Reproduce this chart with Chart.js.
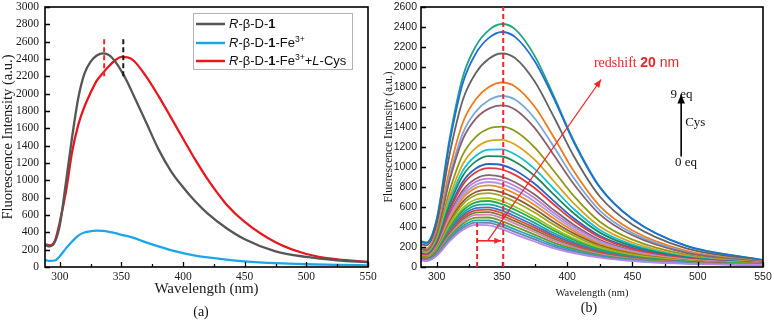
<!DOCTYPE html>
<html>
<head>
<meta charset="utf-8">
<script src="https://cdn.jsdelivr.net/npm/chart.js@4.4.1/dist/chart.umd.min.js"></script>
<style>
  html, body { margin: 0; padding: 0; background: #fff; }
  #wrap { position: relative; width: 774px; height: 320px; overflow: hidden; }
  #chartA { position: absolute; left: 0; top: 0; }
  #chartB { position: absolute; left: 380px; top: 0; }
</style>
</head>
<body>
<div id="wrap">
  <canvas id="chartA" width="385" height="320"></canvas>
  <canvas id="chartB" width="394" height="320"></canvas>
</div>
<script>
// --- values ---

// panel (a): three emission spectra
const wavelengthsA = [288, 292, 296, 300, 305, 310, 315, 320, 325, 330, 335, 340, 345, 350, 355, 360, 370, 380, 390, 400, 410, 420, 435, 450, 475, 500, 525, 550]
const probe = [254, 238, 290, 480, 980, 1500, 1950, 2230, 2370, 2440, 2465, 2445, 2370, 2260, 2130, 1975, 1670, 1360, 1110, 920, 755, 615, 450, 320, 180, 116, 78, 55]
const probeFe = [81, 70, 75, 125, 215, 295, 362, 398, 413, 419, 416, 405, 390, 372, 355, 335, 284, 237, 195, 160, 132, 110, 85, 66, 45, 32, 24, 19]
const probeFeCys = [262, 250, 300, 520, 870, 1330, 1640, 1850, 2010, 2150, 2240, 2320, 2385, 2425, 2420, 2380, 2200, 1975, 1730, 1480, 1235, 1010, 725, 520, 285, 150, 88, 60]

// panel (b): titration with Cys, listed from 9 eq (top) down to 0 eq
const wavelengthsB = [288, 292, 300, 310, 320, 330, 340, 350, 360, 375, 390, 405, 425, 450, 490, 550]
const cysCurves = [
  [260, 245, 481, 1290, 1900, 2209, 2369, 2430, 2379, 2114, 1701, 1264, 802, 481, 219, 70],
  [251, 237, 465, 1248, 1838, 2136, 2291, 2350, 2301, 2060, 1680, 1250, 795, 478, 217, 69],
  [228, 216, 423, 1134, 1670, 1941, 2082, 2135, 2090, 1857, 1495, 1110, 705, 423, 192, 62],
  [197, 186, 365, 980, 1443, 1677, 1799, 1845, 1806, 1605, 1292, 959, 609, 365, 166, 54],
  [183, 173, 339, 908, 1337, 1554, 1667, 1710, 1674, 1488, 1197, 889, 564, 339, 154, 50],
  [178, 167, 327, 869, 1277, 1484, 1584, 1616, 1575, 1392, 1116, 830, 527, 317, 145, 49],
  [158, 149, 290, 765, 1123, 1302, 1385, 1404, 1360, 1197, 957, 711, 453, 273, 126, 44],
  [147, 138, 268, 702, 1028, 1191, 1262, 1272, 1225, 1073, 855, 636, 405, 245, 114, 41],
  [140, 131, 253, 658, 962, 1113, 1174, 1177, 1127, 982, 780, 580, 371, 224, 106, 39],
  [135, 126, 243, 626, 913, 1056, 1109, 1105, 1053, 912, 721, 537, 344, 208, 99, 38],
  [127, 119, 229, 585, 853, 985, 1030, 1020, 967, 832, 656, 488, 313, 191, 92, 36],
  [124, 116, 221, 564, 821, 947, 988, 975, 921, 790, 622, 463, 297, 181, 88, 35],
  [117, 109, 208, 527, 766, 883, 918, 902, 848, 724, 568, 423, 272, 166, 81, 34],
  [113, 106, 202, 509, 740, 852, 884, 865, 810, 690, 539, 402, 259, 158, 78, 33],
  [110, 103, 195, 492, 713, 821, 850, 829, 774, 656, 512, 381, 246, 151, 75, 32],
  [107, 100, 190, 474, 688, 791, 816, 792, 735, 620, 482, 360, 232, 143, 71, 31],
  [103, 96, 181, 451, 653, 750, 772, 747, 691, 581, 450, 336, 217, 134, 67, 30],
  [100, 93, 175, 434, 627, 720, 738, 709, 652, 545, 421, 314, 203, 125, 64, 29],
  [95, 88, 166, 408, 589, 675, 689, 658, 602, 499, 384, 286, 186, 115, 59, 28],
  [92, 85, 160, 392, 565, 647, 660, 628, 572, 472, 362, 270, 176, 109, 56, 27],
  [88, 82, 153, 374, 538, 617, 626, 593, 537, 441, 337, 251, 164, 102, 53, 26],
  [85, 79, 147, 358, 515, 589, 597, 563, 508, 415, 316, 236, 154, 96, 51, 25],
  [82, 76, 142, 344, 495, 566, 573, 538, 483, 394, 298, 223, 146, 91, 48, 25],
  [80, 74, 138, 331, 476, 544, 548, 513, 458, 371, 280, 209, 137, 86, 46, 24],
  [77, 71, 132, 318, 456, 521, 524, 488, 434, 350, 263, 197, 129, 81, 44, 23],
  [74, 68, 127, 302, 433, 494, 495, 458, 405, 323, 242, 181, 119, 75, 41, 22],
  [70, 65, 121, 286, 409, 466, 465, 428, 376, 298, 221, 166, 110, 69, 38, 21],
  [68, 63, 116, 273, 390, 444, 441, 403, 351, 276, 204, 153, 101, 64, 36, 21],
  [65, 60, 111, 259, 370, 421, 417, 378, 327, 255, 187, 140, 94, 60, 34, 20]
]
const cysColors = [
  '#1fa57f', '#1f6fd6', '#636363', '#f07b1e', '#78a8dc', '#8c5e70', '#8f9914', '#d6a419',
  '#18c1d0', '#1e8a5c', '#2866c6', '#e23b3e', '#816667', '#c47bd4', '#a79ee8', '#ef8a25',
  '#8f5b3b', '#a2a81a', '#9cc31e', '#2ba84a', '#1aa59c', '#3c72cc', '#d94a3e', '#7b7a34',
  '#e27bba', '#6a9a2a', '#22a7b0', '#6a86b0', '#b58ae8'
]

// axis ticks
const xTicks = [300, 325, 350, 375, 400, 425, 450, 475, 500, 525, 550]
const yTicksA = [0, 200, 400, 600, 800, 1000, 1200, 1400, 1600, 1800, 2000, 2200, 2400, 2600, 2800, 3000]
const yTicksB = [0, 200, 400, 600, 800, 1000, 1200, 1400, 1600, 1800, 2000, 2200, 2400, 2600]

const legendLabelsA = [
  [{ t: 'R', style: 'italic' }, { t: '-β-D-' }, { t: '1', style: 'bold' }],
  [{ t: 'R', style: 'italic' }, { t: '-β-D-' }, { t: '1', style: 'bold' }, { t: '-Fe' }, { t: '3+', sup: true }],
  [{ t: 'R', style: 'italic' }, { t: '-β-D-' }, { t: '1', style: 'bold' }, { t: '-Fe' }, { t: '3+', sup: true }, { t: '+' }, { t: 'L', style: 'italic' }, { t: '-Cys' }]
]
const colorsA = ['#565656', '#1ba6ec', '#e8171e']

const serif = "'Liberation Serif', 'Times New Roman', serif"
const sans = "'Liberation Sans', Arial, sans-serif"

// --- drawing helpers ---

function toPoints(xs, ys) {
  return xs.map((x, i) => ({ x: x, y: ys[i] }))
}

function drawFrame(chart, width) {
  const { ctx, chartArea: a } = chart
  ctx.save()
  ctx.strokeStyle = '#000'
  ctx.lineWidth = width
  ctx.strokeRect(a.left, a.top, a.right - a.left, a.bottom - a.top)
  ctx.restore()
}

function drawInnerTicks(chart, major, minor) {
  const { ctx, chartArea: a, scales } = chart
  ctx.save()
  ctx.strokeStyle = '#000'
  ctx.lineWidth = 1.3
  ctx.beginPath()
  scales.x.ticks.forEach((t) => {
    const px = Math.round(scales.x.getPixelForValue(t.value)) + 0.5
    const len = t.value % 50 === 0 ? major : minor
    ctx.moveTo(px, a.bottom)
    ctx.lineTo(px, a.bottom - len)
  })
  scales.y.ticks.forEach((t) => {
    const py = Math.round(scales.y.getPixelForValue(t.value)) + 0.5
    ctx.moveTo(a.left, py)
    ctx.lineTo(a.left + major, py)
  })
  ctx.stroke()
  ctx.restore()
}

function valueLine(chart, x1, y1, x2, y2, color, width, dash, head) {
  const { ctx, scales } = chart
  const p1 = { x: scales.x.getPixelForValue(x1), y: scales.y.getPixelForValue(y1) }
  const p2 = { x: scales.x.getPixelForValue(x2), y: scales.y.getPixelForValue(y2) }
  ctx.save()
  ctx.strokeStyle = color
  ctx.fillStyle = color
  ctx.lineWidth = width
  ctx.setLineDash(dash || [])
  ctx.beginPath()
  ctx.moveTo(p1.x, p1.y)
  ctx.lineTo(p2.x, p2.y)
  ctx.stroke()
  if (head) {
    const ang = Math.atan2(p2.y - p1.y, p2.x - p1.x)
    ctx.setLineDash([])
    ctx.beginPath()
    ctx.moveTo(p2.x, p2.y)
    ctx.lineTo(p2.x - head * Math.cos(ang) + head * 0.42 * Math.sin(ang), p2.y - head * Math.sin(ang) - head * 0.42 * Math.cos(ang))
    ctx.lineTo(p2.x - head * Math.cos(ang) - head * 0.42 * Math.sin(ang), p2.y - head * Math.sin(ang) + head * 0.42 * Math.cos(ang))
    ctx.closePath()
    ctx.fill()
  }
  ctx.restore()
}

function drawRich(ctx, x, y, parts, size, family) {
  let cx = x
  parts.forEach((p) => {
    const s = p.sup ? size * 0.66 : size
    ctx.font = (p.style || '') + ' ' + s + 'px ' + (p.family || family)
    ctx.fillText(p.t, cx, p.sup ? y - size * 0.33 : y)
    cx += ctx.measureText(p.t).width
  })
  return cx
}

function valueText(chart, text, xv, yv, font, color, align) {
  const { ctx, scales } = chart
  ctx.save()
  ctx.font = font
  ctx.fillStyle = color
  ctx.textAlign = align || 'left'
  ctx.textBaseline = 'middle'
  ctx.fillText(text, scales.x.getPixelForValue(xv), scales.y.getPixelForValue(yv))
  ctx.restore()
}

// --- shared axis setup ---

function makeScales(cfg) {
  return {
    x: {
      type: 'linear',
      min: 288,
      max: 550,
      afterBuildTicks: (s) => { s.ticks = xTicks.map((v) => ({ value: v })) },
      afterFit: (s) => {
        s.height = 53
        s.paddingLeft = 0
        s.paddingRight = 0
      },
      grid: { display: false, drawTicks: false },
      border: { display: false },
      ticks: {
        autoSkip: false,
        maxRotation: 0,
        padding: cfg.xPad,
        color: '#1a1a1a',
        font: cfg.tickFont,
        callback: (v) => (v % 50 === 0 ? String(v) : '')
      },
      title: {
        display: true,
        text: 'Wavelength (nm)',
        color: '#1a1a1a',
        font: cfg.xTitleFont,
        padding: { top: 0, bottom: cfg.xTitlePad }
      }
    },
    y: {
      type: 'linear',
      min: 0,
      max: cfg.yMax,
      afterBuildTicks: (s) => { s.ticks = cfg.yTicks.map((v) => ({ value: v })) },
      afterFit: (s) => {
        s.width = cfg.yWidth
        s.paddingTop = 0
        s.paddingBottom = 0
      },
      grid: { display: false, drawTicks: false },
      border: { display: false },
      ticks: {
        autoSkip: false,
        padding: cfg.yPad,
        color: '#1a1a1a',
        font: cfg.tickFont,
        callback: (v) => String(v)
      },
      title: {
        display: true,
        text: 'Fluorescence Intensity (a.u.)',
        color: '#1a1a1a',
        font: cfg.yTitleFont,
        padding: { top: cfg.yTitlePad, bottom: 0 }
      }
    }
  }
}

// --- panel (a) ---

const panelAExtras = {
  id: 'panelAExtras',
  afterDatasetsDraw(chart) {
    const { ctx } = chart
    drawFrame(chart, 1.6)
    drawInnerTicks(chart, 5, 3)
    valueLine(chart, 336, 2200, 336, 2650, '#f0282d', 2, [5, 3])
    valueLine(chart, 351.5, 2200, 351.5, 2650, '#1a1a1a', 2, [5, 3])

    // legend with italic / bold / superscript parts
    ctx.save()
    ctx.strokeStyle = '#b4b4b4'
    ctx.lineWidth = 1
    ctx.strokeRect(193.5, 13.5, 159, 56)
    const rows = [24, 43, 61]
    legendLabelsA.forEach((parts, i) => {
      ctx.strokeStyle = colorsA[i]
      ctx.lineWidth = 2.5
      ctx.beginPath()
      ctx.moveTo(196, rows[i])
      ctx.lineTo(225, rows[i])
      ctx.stroke()
      ctx.fillStyle = '#111'
      ctx.textBaseline = 'middle'
      ctx.textAlign = 'left'
      drawRich(ctx, 229, rows[i] + 0.5, parts, 13, sans)
    })
    ctx.font = '14px ' + serif
    ctx.textAlign = 'center'
    ctx.fillText('(a)', 201, 312)
    ctx.restore()
  }
}

new Chart(document.getElementById('chartA'), {
  type: 'line',
  data: {
    datasets: [
      { label: 'R-β-D-1', data: toPoints(wavelengthsA, probe), borderColor: colorsA[0] },
      { label: 'R-β-D-1-Fe3+', data: toPoints(wavelengthsA, probeFe), borderColor: colorsA[1] },
      { label: 'R-β-D-1-Fe3+ + L-Cys', data: toPoints(wavelengthsA, probeFeCys), borderColor: colorsA[2] }
    ].map((d) => Object.assign(d, { borderWidth: 2.3, pointRadius: 0, fill: false, cubicInterpolationMode: 'monotone' }))
  },
  options: {
    responsive: false,
    animation: false,
    events: [],
    layout: { padding: { left: 0, top: 7, right: 17, bottom: 0 } },
    plugins: { legend: { display: false }, tooltip: { enabled: false } },
    scales: makeScales({
      yMax: 3000,
      yTicks: yTicksA,
      yWidth: 45,
      xPad: 3,
      yPad: 6,
      tickFont: { family: serif, size: 11.5 },
      xTitleFont: { family: serif, size: 15, lineHeight: 1.2 },
      xTitlePad: 22,
      yTitleFont: { family: serif, size: 14.5, lineHeight: 1 },
      yTitlePad: 1
    })
  },
  plugins: [panelAExtras]
})

// --- panel (b) ---

const panelBExtras = {
  id: 'panelBExtras',
  afterDatasetsDraw(chart) {
    const { ctx } = chart
    drawFrame(chart, 1.6)
    drawInnerTicks(chart, 5, 3)
    const red = '#f0282d'
    valueLine(chart, 351, 0, 351, 2600, red, 2, [5, 3])
    valueLine(chart, 331, 0, 331, 440, red, 2, [5, 3])
    valueLine(chart, 331, 262, 349.5, 262, red, 1.6, null, 7)
    valueLine(chart, 339, 262, 426, 1875, red, 1.3, null, 8)
    valueLine(chart, 487.3, 1105, 487.3, 1725, '#000', 1.6, null, 9)

    // "redshift 20 nm"
    ctx.save()
    ctx.fillStyle = '#e8262b'
    ctx.textBaseline = 'middle'
    ctx.textAlign = 'left'
    const rx = chart.scales.x.getPixelForValue(420.5)
    const ry = chart.scales.y.getPixelForValue(2040)
    drawRich(ctx, rx, ry, [
      { t: 'redshift ', family: serif },
      { t: '20', style: 'bold' },
      { t: ' nm' }
    ], 14, sans)
    ctx.restore()

    valueText(chart, '9 eq', 487.6, 1722, '13px ' + serif, '#111', 'center')
    valueText(chart, 'Cys', 490.4, 1440, '13px ' + serif, '#111', 'left')
    valueText(chart, '0 eq', 491, 1040, '13px ' + serif, '#111', 'center')

    ctx.save()
    ctx.fillStyle = '#111'
    ctx.font = '14px ' + serif
    ctx.textAlign = 'center'
    ctx.textBaseline = 'middle'
    ctx.fillText('(b)', 209, 308)
    ctx.restore()
  }
}

// draw 0 eq first so higher equivalents sit on top
const datasetsB = cysCurves.map((ys, i) => ({
  label: 'curve ' + (i + 1),
  data: toPoints(wavelengthsB, ys),
  borderColor: cysColors[i % cysColors.length],
  borderWidth: 1.8,
  pointRadius: 0,
  fill: false,
  cubicInterpolationMode: 'monotone'
})).reverse()

new Chart(document.getElementById('chartB'), {
  type: 'line',
  data: { datasets: datasetsB },
  options: {
    responsive: false,
    animation: false,
    events: [],
    layout: { padding: { left: 0, top: 7, right: 11, bottom: 0 } },
    plugins: { legend: { display: false }, tooltip: { enabled: false } },
    scales: makeScales({
      yMax: 2600,
      yTicks: yTicksB,
      yWidth: 41,
      xPad: 4,
      yPad: 4,
      tickFont: { family: sans, size: 10.5 },
      xTitleFont: { family: serif, size: 10.5, lineHeight: 1.2 },
      xTitlePad: 20,
      yTitleFont: { family: serif, size: 11.5, lineHeight: 1 },
      yTitlePad: 3
    })
  },
  plugins: [panelBExtras]
})
</script>
</body>
</html>
